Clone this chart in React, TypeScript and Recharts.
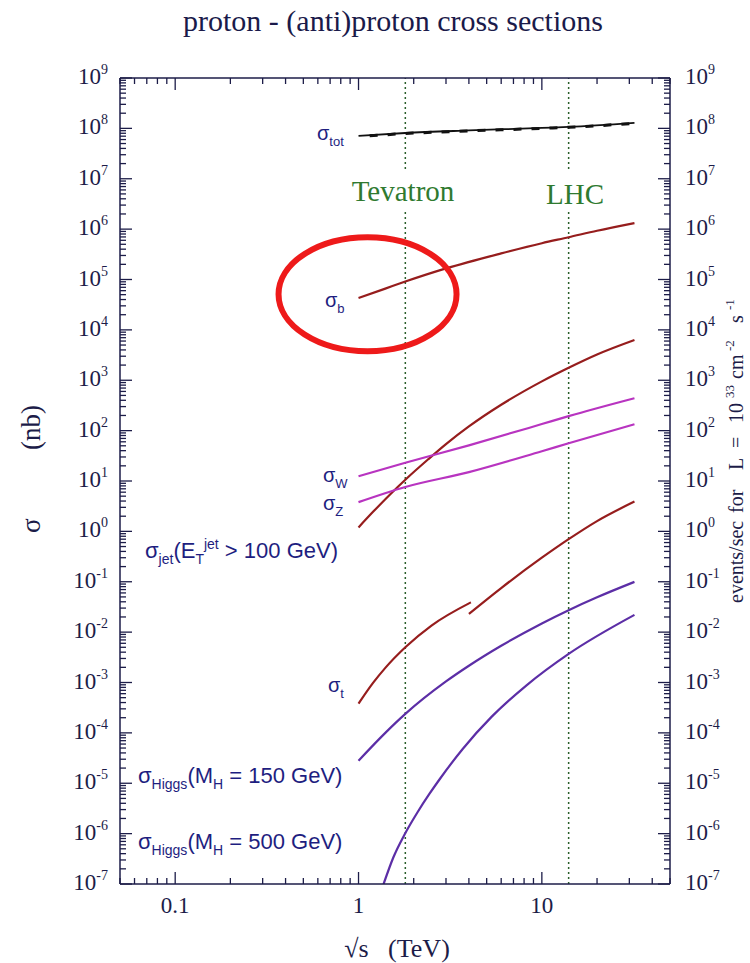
import React from 'react';
import { LineChart, Line, XAxis, YAxis, ReferenceLine, ReferenceDot } from 'recharts';

const WIDTH = 750;
const HEIGHT = 963;

// sqrt(s) in TeV, cross sections in nb
const totS = [1, 1.8, 4, 10, 14, 32];
const totSigma = [7.1e7, 8.1e7, 9.1e7, 1.02e8, 1.07e8, 1.29e8];
const totBarS = [1.15, 1.8, 4, 10, 14, 32];
const totBarSigma = [7.1e7, 7.9e7, 8.9e7, 1.0e8, 1.05e8, 1.26e8];

const bS = [1, 1.4, 1.8, 3, 6, 10, 14, 20, 32];
const bSigma = [4.3e4, 6.6e4, 9.1e4, 1.66e5, 3.3e5, 5.25e5, 6.9e5, 9.3e5, 1.32e6];

const jetS = [1, 1.2, 1.5, 1.8, 2.4, 3, 4, 6, 10, 14, 20, 32];
const jetSigma = [1.2, 2.44, 5.6, 10.6, 27, 54, 121, 326, 950, 1770, 3250, 6300];

const wS = [1, 1.8, 4, 10, 14, 32];
const wSigma = [12.4, 23, 51, 135, 194, 440];

const zS = [1, 1.8, 4, 10, 14, 32];
const zSigma = [3.8, 7.6, 15, 39, 56, 134];

// top pair production: p-pbar branch, then pp branch
const topLowS = [1, 1.2, 1.4, 1.8, 2.5, 4.1];
const topLowSigma = [3.8e-4, 9.8e-4, 1.95e-3, 5.0e-3, 1.35e-2, 3.9e-2];
const topHighS = [4, 6, 10, 14, 20, 32];
const topHighSigma = [0.023, 0.075, 0.3, 0.7, 1.6, 3.9];

const h150S = [1, 1.4, 1.8, 3, 4, 6, 10, 14, 20, 32];
const h150Sigma = [2.8e-5, 1.0e-4, 2.38e-4, 1.05e-3, 2.15e-3, 5.36e-3, 1.49e-2, 2.73e-2, 4.92e-2, 0.0995];

const h500S = [1.37, 1.55, 1.78, 2.09, 2.44, 2.77, 3.7, 5.33, 8.28, 14, 32];
const h500Sigma = [1e-7, 3.4e-7, 9.5e-7, 2.6e-6, 6.2e-6, 1.2e-5, 4.8e-5, 2.1e-4, 8.9e-4, 3.7e-3, 2.2e-2];

const colliders = [
  { name: 'Tevatron', s: 1.8 },
  { name: 'LHC', s: 14 },
];

const xTicks = [
  0.05, 0.06, 0.07, 0.08, 0.09,
  0.1, 0.2, 0.3, 0.4, 0.5, 0.6, 0.7, 0.8, 0.9,
  1, 2, 3, 4, 5, 6, 7, 8, 9,
  10, 20, 30, 40, 50,
];
const xLabels: Record<string, string> = { '0.1': '0.1', '1': '1', '10': '10' };

const yDecades = [1e-7, 1e-6, 1e-5, 1e-4, 1e-3, 1e-2, 1e-1, 1, 1e1, 1e2, 1e3, 1e4, 1e5, 1e6, 1e7, 1e8, 1e9];
const yTicks = yDecades.flatMap((d, i) =>
  i === yDecades.length - 1 ? [d] : [d, 2 * d, 3 * d, 4 * d, 5 * d, 6 * d, 7 * d, 8 * d, 9 * d]
);

const AXIS = '#1c1c48';
const SERIF = '"Liberation Serif", "Times New Roman", serif';
const SANS = '"Liberation Sans", Arial, sans-serif';
const LABEL = '#1e1e80';
const RED = '#961d1d';
const MAGENTA = '#b834c0';
const PURPLE = '#5c2ea6';
const GREEN = '#2f7a30';

const pts = (xs: number[], ys: number[]) => xs.map((s, i) => ({ s, sigma: ys[i] }));

const isDecade = (v: number) => Math.abs(Math.log10(v) - Math.round(Math.log10(v))) < 1e-6;

function LeftTick(p: any) {
  const v = p.payload.value;
  const major = isDecade(v);
  return (
    <g>
      <line x1={p.x} x2={p.x + (major ? 12 : 6)} y1={p.y} y2={p.y} stroke={AXIS} strokeWidth={1.3} />
      {major && (
        <text x={p.x - 12} y={p.y + 6} textAnchor="end" fontFamily={SERIF} fontSize={23} fill={AXIS}>
          10<tspan dy={-10} fontSize={14}>{Math.round(Math.log10(v))}</tspan>
        </text>
      )}
    </g>
  );
}

function RightTick(p: any) {
  const v = p.payload.value;
  const major = isDecade(v);
  return (
    <g>
      <line x1={p.x} x2={p.x - (major ? 12 : 6)} y1={p.y} y2={p.y} stroke={AXIS} strokeWidth={1.3} />
      {major && (
        <text x={p.x + 15} y={p.y + 6} textAnchor="start" fontFamily={SERIF} fontSize={23} fill={AXIS}>
          10<tspan dy={-10} fontSize={14}>{Math.round(Math.log10(v))}</tspan>
        </text>
      )}
    </g>
  );
}

function BottomTick(p: any) {
  const v = p.payload.value;
  const major = isDecade(v);
  return (
    <g>
      <line x1={p.x} x2={p.x} y1={p.y} y2={p.y - (major ? 12 : 6)} stroke={AXIS} strokeWidth={1.3} />
      {major && (
        <text x={p.x} y={p.y + 29} textAnchor="middle" fontFamily={SERIF} fontSize={23} fill={AXIS}>
          {xLabels[String(v)]}
        </text>
      )}
    </g>
  );
}

function TopTick(p: any) {
  const major = isDecade(p.payload.value);
  return <line x1={p.x} x2={p.x} y1={p.y} y2={p.y + (major ? 12 : 6)} stroke={AXIS} strokeWidth={1.3} />;
}

function Sigma({ x, y, sub }: { x: number; y: number; sub: string }) {
  return (
    <text x={x} y={y} fontFamily={SANS} fontSize={20} fill={LABEL}>
      σ<tspan dy={6} fontSize={13}>{sub}</tspan>
    </text>
  );
}

function Annotations() {
  return (
    <svg width={WIDTH} height={HEIGHT} style={{ position: 'absolute', left: 0, top: 0, pointerEvents: 'none' }}>
      <text x={393} y={31} textAnchor="middle" fontFamily={SERIF} fontSize={30} fill="#1a1a4a">
        proton - (anti)proton cross sections
      </text>

      {/* axis titles */}
      <text x={397} y={957} textAnchor="middle" fontFamily={SERIF} fontSize={26} fill={AXIS} style={{ whiteSpace: 'pre' }}>
        √s   (TeV)
      </text>
      <g transform="translate(40,533) rotate(-90)">
        <text fontFamily={SERIF} fontSize={27} fill={AXIS}>
          <tspan x={0}>σ</tspan>
          <tspan x={83}>(nb)</tspan>
        </text>
      </g>
      <g transform="translate(743,603) rotate(-90)">
        <text fontFamily={SERIF} fontSize={20} fill={AXIS}>
          <tspan x={0}>events/sec</tspan>
          <tspan x={90}>for</tspan>
          <tspan x={133}>L</tspan>
          <tspan x={155}>=</tspan>
          <tspan x={180}>10</tspan>
          <tspan x={205} y={-9} fontSize={13}>33</tspan>
          <tspan x={224} y={0}>cm</tspan>
          <tspan x={252} y={-9} fontSize={13}>-2</tspan>
          <tspan x={280} y={0}>s</tspan>
          <tspan x={293} y={-9} fontSize={13}>-1</tspan>
        </text>
      </g>

      {/* collider labels sit on a white patch that interrupts the dotted lines */}
      <rect x={346} y={172} width={114} height={40} fill="#fff" />
      <text x={403} y={201} textAnchor="middle" fontFamily={SERIF} fontSize={29} fill={GREEN}>
        {colliders[0].name}
      </text>
      <rect x={543} y={172} width={64} height={40} fill="#fff" />
      <text x={575} y={204} textAnchor="middle" fontFamily={SERIF} fontSize={29} fill={GREEN}>
        {colliders[1].name}
      </text>

      {/* curve labels */}
      <Sigma x={317} y={140} sub="tot" />
      <Sigma x={325} y={307} sub="b" />
      <Sigma x={323} y={482} sub="W" />
      <Sigma x={323} y={510} sub="Z" />
      <Sigma x={328} y={692} sub="t" />
      <text x={145} y={558} fontFamily={SANS} fontSize={22} fill={LABEL}>
        σ<tspan dy={6} fontSize={14}>jet</tspan>
        <tspan dy={-6}>(E</tspan>
        <tspan dy={6} fontSize={14}>T</tspan>
        <tspan dy={-15} fontSize={14}>jet</tspan>
        <tspan dy={9}> &gt; 100 GeV)</tspan>
      </text>
      <text x={138} y={783} fontFamily={SANS} fontSize={22} fill={LABEL}>
        σ<tspan dy={6} fontSize={14}>Higgs</tspan>
        <tspan dy={-6}>(M</tspan>
        <tspan dy={6} fontSize={14}>H</tspan>
        <tspan dy={-6}> = 150 GeV)</tspan>
      </text>
      <text x={138} y={849} fontFamily={SANS} fontSize={22} fill={LABEL}>
        σ<tspan dy={6} fontSize={14}>Higgs</tspan>
        <tspan dy={-6}>(M</tspan>
        <tspan dy={6} fontSize={14}>H</tspan>
        <tspan dy={-6}> = 500 GeV)</tspan>
      </text>
    </svg>
  );
}

const lineProps = {
  xAxisId: 'bottom',
  yAxisId: 'left',
  dataKey: 'sigma',
  type: 'monotone' as const,
  dot: false,
  activeDot: false,
  isAnimationActive: false,
  strokeWidth: 2.2,
};

const logX = {
  dataKey: 's',
  type: 'number' as const,
  scale: 'log' as const,
  domain: [0.05, 50],
  allowDataOverflow: true,
  ticks: xTicks,
  interval: 0,
  tickSize: 0,
  tickMargin: 0,
  axisLine: { stroke: AXIS, strokeWidth: 1.5 },
};

const logY = {
  type: 'number' as const,
  scale: 'log' as const,
  domain: [1e-7, 1e9],
  allowDataOverflow: true,
  ticks: yTicks,
  interval: 0,
  tickSize: 0,
  tickMargin: 0,
  axisLine: { stroke: AXIS, strokeWidth: 1.5 },
};

export default function App() {
  return (
    <div style={{ position: 'absolute', left: 0, top: 0, width: WIDTH, height: HEIGHT, background: '#fff' }}>
      <LineChart width={WIDTH} height={HEIGHT} margin={{ top: 68, right: 30, bottom: 39, left: 60 }}>
        <XAxis {...logX} xAxisId="bottom" height={40} tick={(p: any) => <BottomTick {...p} />} />
        <XAxis {...logX} xAxisId="top" orientation="top" height={10} tick={(p: any) => <TopTick {...p} />} />
        <YAxis {...logY} yAxisId="left" width={60} tick={(p: any) => <LeftTick {...p} />} />
        <YAxis {...logY} yAxisId="right" orientation="right" width={50} tick={(p: any) => <RightTick {...p} />} />

        {colliders.map((c) => (
          <ReferenceLine
            key={c.name}
            x={c.s}
            xAxisId="bottom"
            yAxisId="left"
            stroke="#2a5e2a"
            strokeWidth={1.5}
            strokeDasharray="2 3"
          />
        ))}

        <Line {...lineProps} data={pts(totS, totSigma)} stroke="#111" strokeWidth={1.8} />
        <Line {...lineProps} data={pts(totBarS, totBarSigma)} stroke="#111" strokeWidth={3} strokeDasharray="8 10" />
        <Line {...lineProps} data={pts(bS, bSigma)} stroke={RED} />
        <Line {...lineProps} data={pts(jetS, jetSigma)} stroke={RED} />
        <Line {...lineProps} data={pts(wS, wSigma)} stroke={MAGENTA} />
        <Line {...lineProps} data={pts(zS, zSigma)} stroke={MAGENTA} />
        <Line {...lineProps} data={pts(topLowS, topLowSigma)} stroke={RED} />
        <Line {...lineProps} data={pts(topHighS, topHighSigma)} stroke={RED} />
        <Line {...lineProps} data={pts(h150S, h150Sigma)} stroke={PURPLE} />
        <Line {...lineProps} data={pts(h500S, h500Sigma)} stroke={PURPLE} />

        <ReferenceDot
          xAxisId="bottom"
          yAxisId="left"
          x={1.12}
          y={5.1e4}
          ifOverflow="visible"
          shape={(p: any) => (
            <ellipse cx={p.cx} cy={p.cy} rx={89} ry={57} fill="none" stroke="#ee1a1a" strokeWidth={6} />
          )}
        />
      </LineChart>
      <Annotations />
    </div>
  );
}
